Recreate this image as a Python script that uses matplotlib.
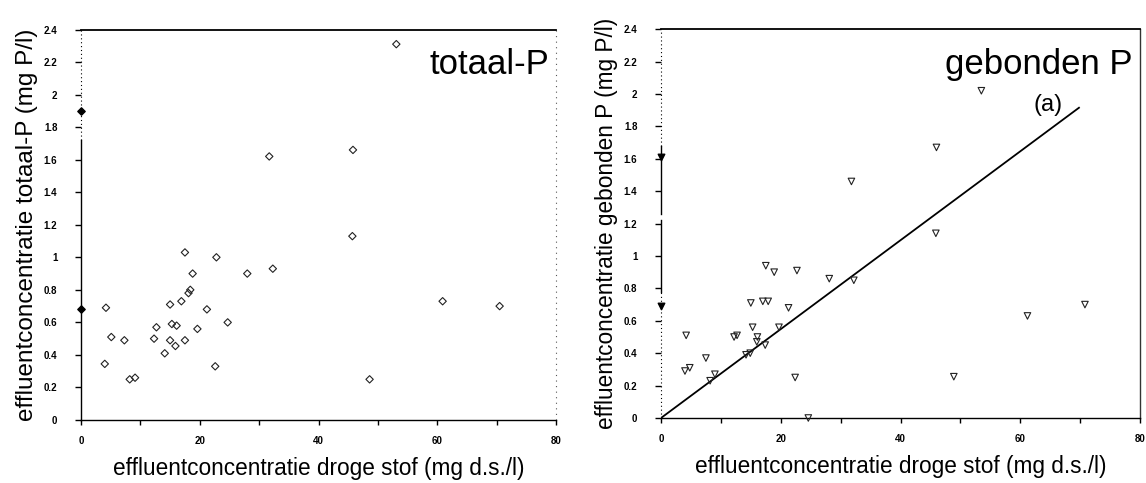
import matplotlib
matplotlib.use("Agg")
import matplotlib.pyplot as plt
from matplotlib.ticker import FuncFormatter, MultipleLocator

plt.rcParams['font.family'] = ['Liberation Sans', 'DejaVu Sans']

# totaal-P versus droge stof
tp_x = [53.1, 31.7, 45.8, 45.7, 17.5, 22.8, 18.8, 28.0, 32.3, 18.1, 18.4, 16.9,
        15.0, 21.2, 24.7, 15.3, 16.1, 19.6, 12.7, 12.3, 15.0, 15.9, 17.5, 14.1,
        22.6, 4.2, 5.1, 7.3, 4.0, 8.2, 9.1, 60.9, 70.5, 48.6]
tp_y = [2.31, 1.62, 1.66, 1.13, 1.03, 1.00, 0.90, 0.90, 0.93, 0.78, 0.80, 0.73,
        0.71, 0.68, 0.60, 0.59, 0.58, 0.56, 0.57, 0.50, 0.49, 0.455, 0.49, 0.41,
        0.33, 0.69, 0.51, 0.49, 0.345, 0.25, 0.26, 0.73, 0.70, 0.25]
tp_zero_x = [0, 0]
tp_zero_y = [1.90, 0.68]

# gebonden P versus droge stof
gp_x = [53.5, 31.8, 46.0, 45.9, 17.5, 18.9, 22.7, 28.1, 32.2, 17.0, 17.9, 15.0,
        21.3, 15.3, 19.7, 4.2, 12.7, 12.2, 16.1, 16.0, 17.4, 14.9, 14.2, 7.5,
        4.8, 4.0, 9.0, 8.2, 22.4, 24.6, 70.8, 61.2, 48.9]
gp_y = [2.02, 1.46, 1.67, 1.14, 0.94, 0.90, 0.91, 0.86, 0.85, 0.72, 0.72, 0.71,
        0.68, 0.56, 0.56, 0.51, 0.51, 0.50, 0.50, 0.47, 0.45, 0.40, 0.39, 0.37,
        0.31, 0.29, 0.27, 0.23, 0.25, 0.0, 0.70, 0.63, 0.255]
gp_zero_x = [0, 0]
gp_zero_y = [1.61, 0.69]

# regression line (a)
line_x = [0, 69.8]
line_y = [0, 1.915]

x_label = "effluentconcentratie droge stof (mg d.s./l)"
y_labels = ["effluentconcentratie totaal-P (mg P/l)",
            "effluentconcentratie gebonden P (mg P/l)"]
titles = ["totaal-P", "gebonden P"]

fig = plt.figure(figsize=(11.46, 4.83), dpi=100)
ax1 = fig.add_axes([0.0707, 0.1304, 0.4145, 0.8085])
ax2 = fig.add_axes([0.5768, 0.1346, 0.418, 0.805])

fmt = FuncFormatter(lambda v, p: "%g" % round(v, 1))


def style_axes(ax, solid_parts, dotted_parts):
    ax.set_xlim(0, 80)
    ax.set_ylim(0, 2.4)
    ax.xaxis.set_major_locator(MultipleLocator(20))
    ax.xaxis.set_minor_locator(MultipleLocator(10))
    ax.yaxis.set_major_locator(MultipleLocator(0.2))
    ax.yaxis.set_major_formatter(fmt)
    ax.xaxis.set_major_formatter(fmt)
    ax.tick_params(axis='y', direction='out', length=4, width=1, pad=13,
                   labelsize=7, right=False)
    ax.tick_params(axis='x', which='both', direction='out', length=3.5,
                   width=1, pad=8, labelsize=7, top=False)
    for lab in ax.get_xticklabels() + ax.get_yticklabels():
        lab.set_fontweight('bold')
    for s in ['left', 'right']:
        ax.spines[s].set_visible(False)
    ax.spines['top'].set_linewidth(1.3)
    ax.spines['bottom'].set_linewidth(1.0)
    # left frame: solid and dotted stretches
    yt = ax.get_yaxis_transform()
    for y0, y1 in solid_parts:
        ax.plot([0, 0], [y0, y1], color='black', lw=1.0, transform=yt,
                clip_on=False)
    for y0, y1 in dotted_parts:
        ax.plot([0, 0], [y0, y1], color='black', lw=0.8, ls=(0, (1, 2.5)),
                transform=yt, clip_on=False)


style_axes(ax1, [(0, 1.72)], [(1.72, 2.4)])
style_axes(ax2, [(0.78, 1.22), (1.26, 1.68)], [(0, 0.78), (1.68, 2.4)])

# right frame lines
ax1.plot([1, 1], [0, 2.4], color='#555555', lw=0.8, ls=(0, (1, 4)),
         transform=ax1.get_yaxis_transform(), clip_on=False)
ax2.plot([1, 1], [0, 2.4], color='#333333', lw=1.0,
         transform=ax2.get_yaxis_transform(), clip_on=False)

# left panel points
ax1.scatter(tp_x, tp_y, marker='D', s=14, facecolors='none',
            edgecolors='#222222', linewidths=0.8, clip_on=False, zorder=3)
ax1.scatter(tp_zero_x, tp_zero_y, marker='D', s=14, color='black',
            clip_on=False, zorder=3)

# right panel points and line
ax2.scatter(gp_x, gp_y, marker='v', s=22, facecolors='none',
            edgecolors='#222222', linewidths=0.8, clip_on=False, zorder=3)
ax2.scatter(gp_zero_x, gp_zero_y, marker='v', s=22, color='black',
            clip_on=False, zorder=3)
ax2.plot(line_x, line_y, color='black', lw=1.3, zorder=2)

for ax, yl, t, fs in [(ax1, y_labels[0], titles[0], 17.5),
                      (ax2, y_labels[1], titles[1], 16.3)]:
    ax.set_xlabel(x_label, fontsize=16.3, labelpad=8)
    ax.set_ylabel(yl, fontsize=fs, labelpad=4)
    ax.text(0.985, 0.91, t, transform=ax.transAxes, fontsize=25,
            ha='right', va='center')

ax2.text(64.6, 1.93, "(a)", fontsize=17, ha='center', va='center')

fig.savefig("out.png", dpi=100)
